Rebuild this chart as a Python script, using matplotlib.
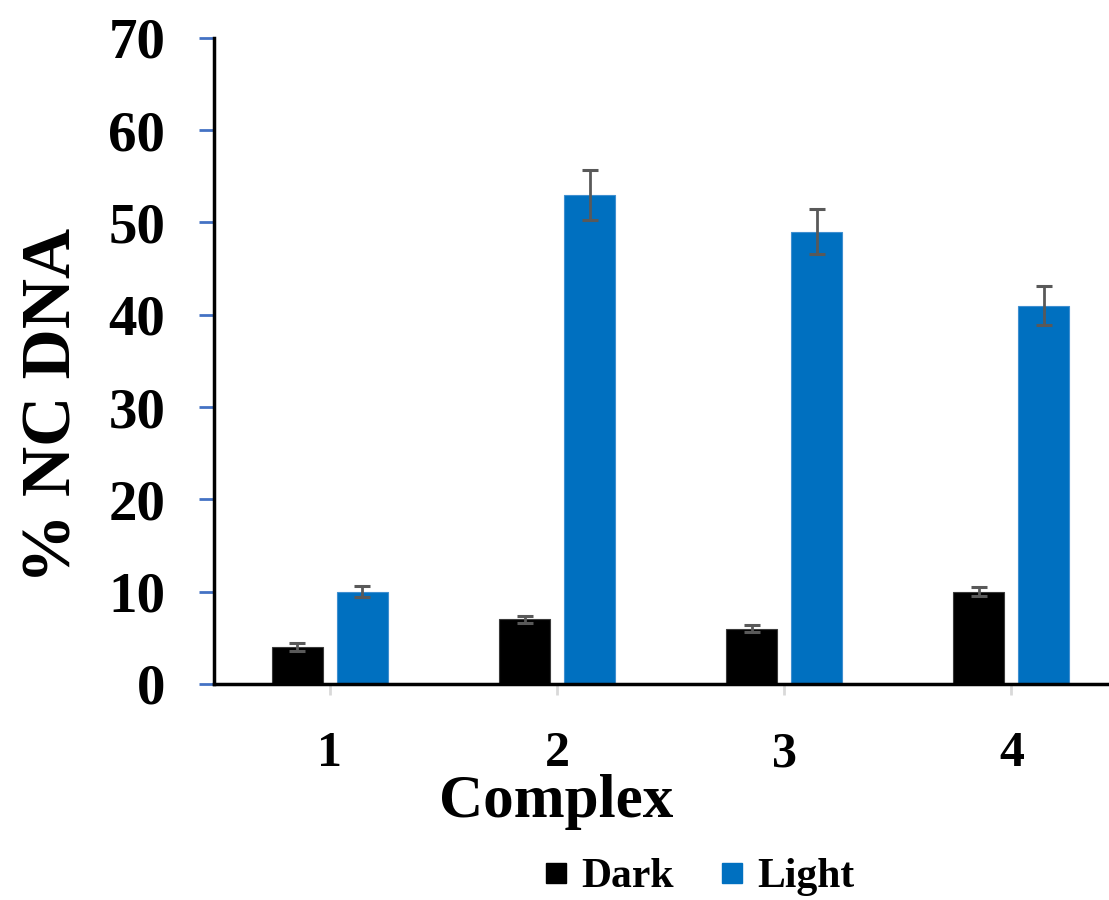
import matplotlib.pyplot as plt
import numpy as np
from matplotlib.lines import Line2D

plt.rcParams['font.family'] = ['Liberation Serif', 'DejaVu Serif']
plt.rcParams['font.weight'] = 'bold'

complexes = ['1', '2', '3', '4']
dark = [4, 7, 6, 10]
dark_err = [0.4, 0.4, 0.4, 0.5]
light = [10, 53, 49, 41]
light_err = [0.6, 2.7, 2.45, 2.1]

dark_color = '#000000'
light_color = '#0070C0'
err_color = '#595959'

fig = plt.figure(figsize=(11.09, 9), dpi=100)
ax = fig.add_axes([0.193, 0.24, 0.807, 0.718])

x = np.arange(1, len(complexes) + 1)
w = 0.225
off = 0.143

ax.bar(x - off, dark, w, color=dark_color, edgecolor='#3a3a3a', linewidth=0.8, zorder=2)
ax.bar(x + off, light, w, color=light_color, edgecolor='#3f8fd0', linewidth=0.8, zorder=2)
ax.errorbar(x - off, dark, yerr=dark_err, fmt='none', ecolor=err_color,
            elinewidth=2, capsize=6, capthick=2.2, zorder=3)
ax.errorbar(x + off, light, yerr=light_err, fmt='none', ecolor=err_color,
            elinewidth=2, capsize=6, capthick=2.2, zorder=3)

ax.set_xlim(0.49, 4.43)
ax.set_ylim(0, 70)
ax.set_yticks(range(0, 71, 10))
ax.set_xticks(x)
ax.set_xticklabels(complexes)

for s in ['top', 'right']:
    ax.spines[s].set_visible(False)
ax.spines['left'].set_linewidth(2.5)
ax.spines['bottom'].set_linewidth(2.5)

ax.tick_params(axis='y', direction='out', length=11, width=2, color='#4472C4',
               labelsize=41, pad=24)
ax.tick_params(axis='x', direction='out', length=8, width=2, color='#D9D9D9',
               labelsize=36, pad=26)

fig.text(556 / 1109, 1 - 817 / 900, 'Complex', ha='center', va='baseline',
         fontsize=44, fontweight='bold')
fig.text(54 / 1109, 0.55, '% NC DNA', ha='center', va='center', rotation=90,
         fontsize=50, fontweight='bold')

handles = [Line2D([], [], marker='s', linestyle='none', markersize=15, color=dark_color),
           Line2D([], [], marker='s', linestyle='none', markersize=15, color=light_color)]
fig.legend(handles, ['Dark', 'Light'], loc='center', bbox_to_anchor=(697 / 1109, 1 - 877 / 900),
           ncol=2, frameon=False, fontsize=30, handletextpad=0.2, columnspacing=1.0,
           handlelength=0.8)

plt.savefig('out.png', dpi=100)
